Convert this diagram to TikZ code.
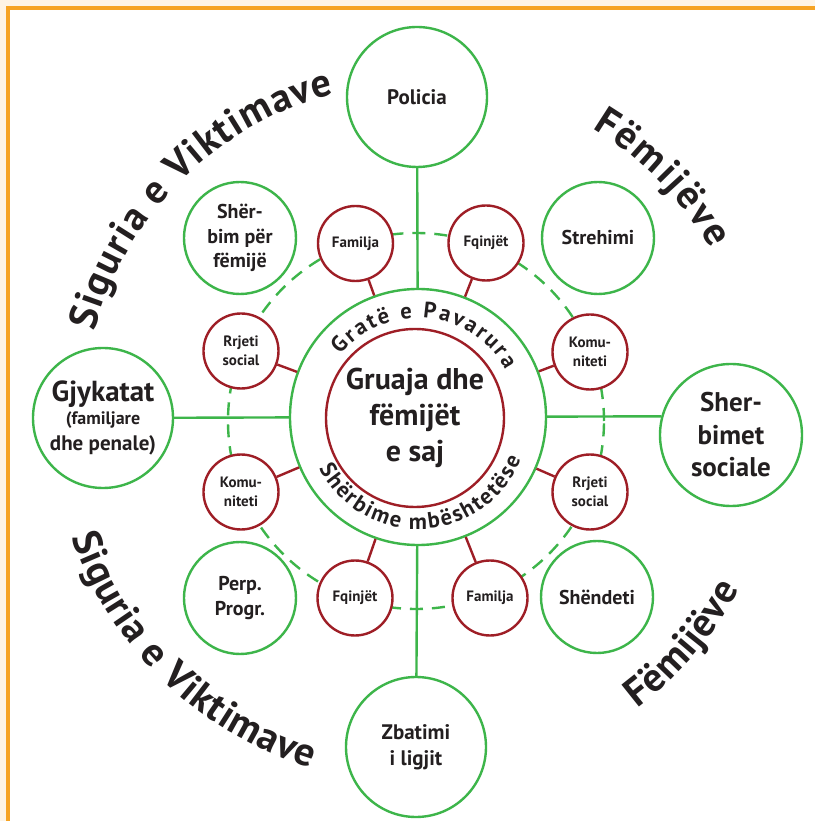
\documentclass[tikz,border=0pt]{standalone}
\usepackage{fontspec}
\setmainfont{PT Sans}
\usetikzlibrary{decorations.text}
\definecolor{grn}{RGB}{61,181,74}
\definecolor{rd}{RGB}{158,30,38}
\definecolor{orn}{RGB}{246,163,35}
\definecolor{cream}{RGB}{254,244,229}
\definecolor{ink}{RGB}{35,31,32}
\newcommand{\bigarcfont}{\fontsize{40}{44}\selectfont\bfseries\color{ink}}
\newcommand{\ringfont}{\fontsize{22.5}{25}\selectfont\bfseries\color{ink}}
\begin{document}
\begin{tikzpicture}[x=1pt,y=1pt]
	\tikzstyle{hub} = [circle,draw=grn,line width=2.4pt,fill=white,inner sep=0pt,minimum size=256pt]
	\tikzstyle{core} = [circle,draw=rd,line width=2.4pt,inner sep=0pt,minimum size=178pt,text=ink,align=center,font=\bfseries\fontsize{30}{36}\selectfont]
	\tikzstyle{agency} = [circle,draw=grn,line width=2.4pt,fill=white,inner sep=0pt,minimum size=140pt,text=ink,align=center,font=\bfseries\fontsize{21}{26}\selectfont]
	\tikzstyle{service} = [agency,minimum size=112pt,font=\bfseries\fontsize{20}{24.5}\selectfont]
	\tikzstyle{tie} = [circle,draw=rd,line width=2.4pt,fill=white,inner sep=0pt,minimum size=75pt,text=ink,align=center,font=\bfseries\fontsize{15}{19}\selectfont]
	\tikzstyle{link} = [draw=grn,line width=2.4pt]
	\tikzstyle{bond} = [draw=rd,line width=2.4pt]

	\useasboundingbox (-418,-403) rectangle (397,418);
	\fill[cream] (-418,-403) rectangle (397,418);
	\fill[white] (-410,-403) rectangle (397,410);
	\draw[orn,line width=3.5pt] (-410,-403) -- (-410,410) -- (397,410);

	% dashed ring behind the small circles
	\draw[grn,line width=2.4pt,dash pattern=on 13pt off 9pt] (-2,-3) circle[radius=188];

	\node[hub] (hub) at (0,1) {};
	\node[core] (core) at (-3,0) {Gruaja dhe\\fëmijët\\e saj};

	\node[agency] (pol) at (-1,321) {Policia};
	\node[agency] (zba) at (-2,-329) {Zbatimi\\i ligjit};
	\node[agency] (gjy) at (-315,0) {{\fontsize{29}{30}\selectfont Gjykatat}\\[-3pt]\fontsize{18}{21}\selectfont (familjare\\dhe penale)};
	\node[agency,minimum size=142pt,font=\bfseries\fontsize{27}{32.5}\selectfont] (soc) at (313,-17) {Sher-\\bimet\\sociale};

	\node[service] (feb) at (-178,180) {Shër-\\bim për\\fëmijë};
	\node[service] (str) at (180,180) {Strehimi};
	\node[service] (per) at (-178,-180) {Perp.\\Progr.};
	\node[service] (she) at (179,-179) {Shëndeti};

	\node[tie] (fam1) at (-62.5,174.5) {Familja};
	\node[tie] (fqi1) at (68,175) {Fqinjët};
	\node[tie] (kom1) at (172,66) {Komu-\\niteti};
	\node[tie] (rrj1) at (172,-74) {Rrjeti\\social};
	\node[tie] (fam2) at (72,-180) {Familja};
	\node[tie] (fqi2) at (-63,-180) {Fqinjët};
	\node[tie] (kom2) at (-177,-74) {Komu-\\niteti};
	\node[tie] (rrj2) at (-177,67) {Rrjeti\\social};

	\path (pol) edge[link] (hub);
	\path (zba) edge[link] (hub);
	\path (gjy) edge[link] (hub);
	\path (hub) edge[link] (soc.165);

	\path (fam1) edge[bond] (hub);
	\path (fqi1) edge[bond] (hub);
	\path (kom1) edge[bond] (hub);
	\path (rrj1) edge[bond] (hub);
	\path (fam2) edge[bond] (hub);
	\path (fqi2) edge[bond] (hub);
	\path (kom2) edge[bond] (hub);
	\path (rrj2) edge[bond] (hub);

	% texts on arcs
	\path[decorate,decoration={text along path,text={|\ringfont|Gratë e Pavarura},text align={fit to path}}]
		(141:100) arc[start angle=141,end angle=29,radius=100];
	\path[decorate,decoration={text along path,text={|\ringfont|Shërbime mbështetëse},text align={fit to path}}]
		(207:111) arc[start angle=207,end angle=338,radius=111];
	\path[decorate,decoration={text along path,text={|\bigarcfont|Siguria e Viktimave},text align={fit to path}}]
		(165:335) arc[start angle=165,end angle=104.5,radius=335];
	\path[decorate,decoration={text along path,text={|\bigarcfont|Fëmijëve},text align={fit to path}}]
		(59:338) arc[start angle=59,end angle=30,radius=338];
	\path[decorate,decoration={text along path,text={|\bigarcfont|Siguria e Viktimave},text align={fit to path}}]
		(199:366) arc[start angle=199,end angle=253,radius=366];
	\path[decorate,decoration={text along path,text={|\bigarcfont|Fëmijëve},text align={fit to path}}]
		(-53:364) arc[start angle=-53,end angle=-28,radius=364];
\end{tikzpicture}
\end{document}
